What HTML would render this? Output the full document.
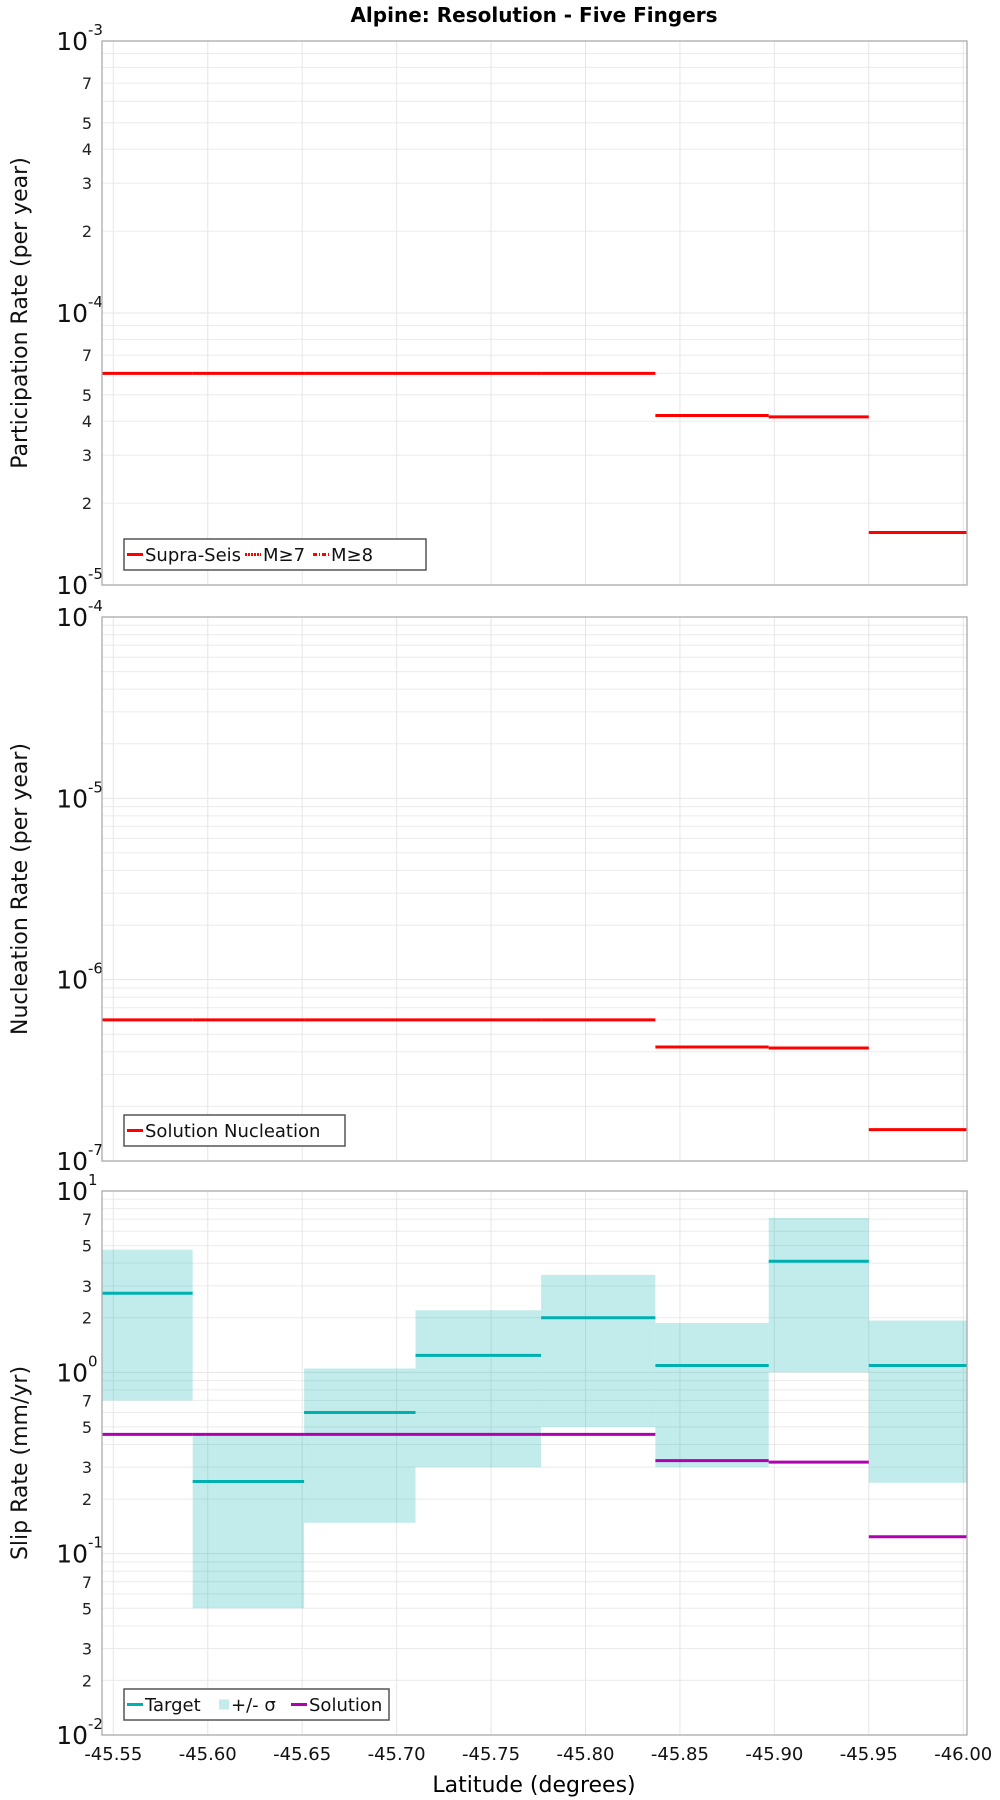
<!DOCTYPE html>
<html><head><meta charset="utf-8">
<style>
html,body{margin:0;padding:0;background:#fff;}
svg{display:block;font-family:"DejaVu Sans","Liberation Sans",sans-serif;}
</style></head>
<body>
<svg id="chart" width="1000" height="1800" viewBox="0 0 1000 1800" xmlns="http://www.w3.org/2000/svg">
<text x="534" y="22" text-anchor="middle" font-size="20" font-weight="bold">Alpine: Resolution - Five Fingers</text>
<text x="534" y="1792" text-anchor="middle" font-size="22">Latitude (degrees)</text>
</svg>
<script>
// Data
const binEdges = [-45.544, -45.592, -45.651, -45.710, -45.7765, -45.837, -45.897, -45.950, -46.002];
const participation = [6.0e-5, 6.0e-5, 6.0e-5, 6.0e-5, 6.0e-5, 4.2e-5, 4.15e-5, 1.56e-5];
const nucleation = [6.0e-7, 6.0e-7, 6.0e-7, 6.0e-7, 6.0e-7, 4.25e-7, 4.2e-7, 1.49e-7];
const slipTarget = [2.73, 0.25, 0.60, 1.24, 2.0, 1.09, 4.1, 1.09];
const slipHigh = [4.75, 0.455, 1.05, 2.2, 3.45, 1.87, 7.1, 1.93];
const slipLow = [0.70, 0.05, 0.148, 0.30, 0.50, 0.30, 1.0, 0.246];
const slipSolution = [0.455, 0.455, 0.455, 0.455, 0.455, 0.326, 0.32, 0.124];
const xTicks = [-45.55, -45.60, -45.65, -45.70, -45.75, -45.80, -45.85, -45.90, -45.95, -46.00];
const xTickLabels = ["-45.55","-45.60","-45.65","-45.70","-45.75","-45.80","-45.85","-45.90","-45.95","-46.00"];

const NS = "http://www.w3.org/2000/svg";
const svg = document.getElementById('chart');
const L = 102, R = 967;
const xDom = [-45.544, -46.002];
function xs(v){ return L + (v - xDom[0]) / (xDom[1] - xDom[0]) * (R - L); }
function mk(tag, attrs, parent){
  const e = document.createElementNS(NS, tag);
  for (const k in attrs) e.setAttribute(k, attrs[k]);
  (parent || svg).appendChild(e);
  return e;
}

function panel(cfg){
  const g = mk('g', {});
  
  
  const T = cfg.top, B = cfg.bottom, lo = cfg.decLo, hi = cfg.decHi;
  const ys = v => B - (Math.log10(v) - lo) / (hi - lo) * (B - T);
  // horizontal grid
  for (let d = lo; d < hi; d++) {
    for (let m = 1; m <= 9; m++) {
      const v = m * Math.pow(10, d);
      const y = ys(v);
      if (m > 1) {
        const gl = mk('line', {x1:L, x2:R, y1:y, y2:y, stroke:'#ebebeb', 'stroke-width':1}, g);
        
        
      }
      if (m > 1 && cfg.minorLabels.indexOf(m) >= 0) {
        const t = mk('text', {x:L-10, y:y+6, 'text-anchor':'end', 'font-size':16, fill:'#222'}, g);
        t.textContent = m;
        
        
      }
    }
  }
  for (let d = lo; d <= hi; d++) {
    const y = ys(Math.pow(10, d));
    if (d > lo && d < hi) {
      const gl = mk('line', {x1:L, x2:R, y1:y, y2:y, stroke:'#e6e6e6', 'stroke-width':1}, g);
      
      
    }
    const t = mk('text', {x:L-14, y:y+9, 'text-anchor':'end', 'font-size':25, fill:'#111'}, g);
    t.textContent = '10';
    
    
    const s = mk('text', {x:L-14, y:y-6, 'text-anchor':'start', 'font-size':15, fill:'#111'}, g);
    s.textContent = String(d);
    
    
  }
  // vertical grid
  xTicks.forEach(v => {
    const gl = mk('line', {x1:xs(v), x2:xs(v), y1:T, y2:B, stroke:'#e6e6e6', 'stroke-width':1}, g);
    
    
  });
  // series
  cfg.draw(g, ys);
  // frame
  const fr = mk('rect', {x:L, y:T, width:R-L, height:B-T, fill:'none', stroke:'#aaaaaa', 'stroke-width':1.3}, g);
  
  
  // y label
  const cy = (T + B) / 2;
  const yl = mk('text', {x:0, y:0, transform:`translate(27,${cy}) rotate(-90)`, 'text-anchor':'middle', 'font-size':22, fill:'#111'}, g);
  yl.textContent = cfg.ylabel;
  
  
  // legend
  const lg = mk('g', {}, g);
  
  
  const lb = mk('rect', {x:124, y:B-46, width:cfg.legendW, height:31, fill:'#fff', stroke:'#555', 'stroke-width':1.5}, lg);
  
  
  let x = 127;
  const ly = B - 30.5;
  cfg.legend.forEach(it => {
    const e = mk('g', {}, lg);
    
    
    if (it.type === 'box') {
      mk('rect', {x:x+2, y:ly-5, width:10, height:10, fill:it.color}, e);
      x += 14;
    } else {
      const a = {x1:x, x2:x+16, y1:ly, y2:ly, stroke:it.color, 'stroke-width':3};
      if (it.dash) a['stroke-dasharray'] = it.dash;
      mk('line', a, e);
      x += 18;
    }
    const t = mk('text', {x:x, y:ly+6.5, 'font-size':18, fill:'#111'}, e);
    t.textContent = it.label;
    x += it.w;
  });
  return ys;
}

function steps(g, ys, vals, color, name, dash){
  vals.forEach((v, i) => {
    const a = {x1:xs(binEdges[i]), x2:xs(binEdges[i+1]), y1:ys(v), y2:ys(v), stroke:color, 'stroke-width':3};
    if (dash) a['stroke-dasharray'] = dash;
    const l = mk('line', a, g);
    
    
  });
}

panel({name:'participation-panel', top:41, bottom:585, decLo:-5, decHi:-3, minorLabels:[2,3,4,5,7],
  ylabel:'Participation Rate (per year)', legendW:302,
  legend:[{label:'Supra-Seis', color:'#ff0000', w:100},{label:'M≥7', color:'#ff0000', dash:'2,1', w:50},{label:'M≥8', color:'#ff0000', dash:'4,2,1,2', w:50}],
  draw:(g, ys) => { steps(g, ys, participation, '#ff0000', 'participation-segment'); }
});
panel({name:'nucleation-panel', top:617, bottom:1161, decLo:-7, decHi:-4, minorLabels:[],
  ylabel:'Nucleation Rate (per year)', legendW:221,
  legend:[{label:'Solution Nucleation', color:'#ff0000', w:180}],
  draw:(g, ys) => { steps(g, ys, nucleation, '#ff0000', 'nucleation-segment'); }
});
panel({name:'slip-rate-panel', top:1191, bottom:1735, decLo:-2, decHi:1, minorLabels:[2,3,5,7],
  ylabel:'Slip Rate (mm/yr)', legendW:265,
  legend:[{label:'Target', color:'#00b0b0', w:72},{label:'+/- σ', color:'#c2ebe9', type:'box', w:60},{label:'Solution', color:'#b000b0', w:80}],
  draw:(g, ys) => {
    slipHigh.forEach((h, i) => {
      const y1 = ys(h), y2 = ys(slipLow[i]);
      const r = mk('rect', {x:xs(binEdges[i]), y:y1, width:xs(binEdges[i+1])-xs(binEdges[i]), height:y2-y1, fill:'#00b0b0', 'fill-opacity':0.24}, g);
      
      
    });
    steps(g, ys, slipSolution, '#b000b0', 'solution-segment');
    steps(g, ys, slipTarget, '#00b0b0', 'target-segment');
  }
});
// x ticks
xTicks.forEach((v, i) => {
  const t = mk('text', {x:xs(v), y:1760, 'text-anchor':'middle', 'font-size':18, fill:'#111'});
  t.textContent = xTickLabels[i];
  
  
});
</script>
</body></html>
